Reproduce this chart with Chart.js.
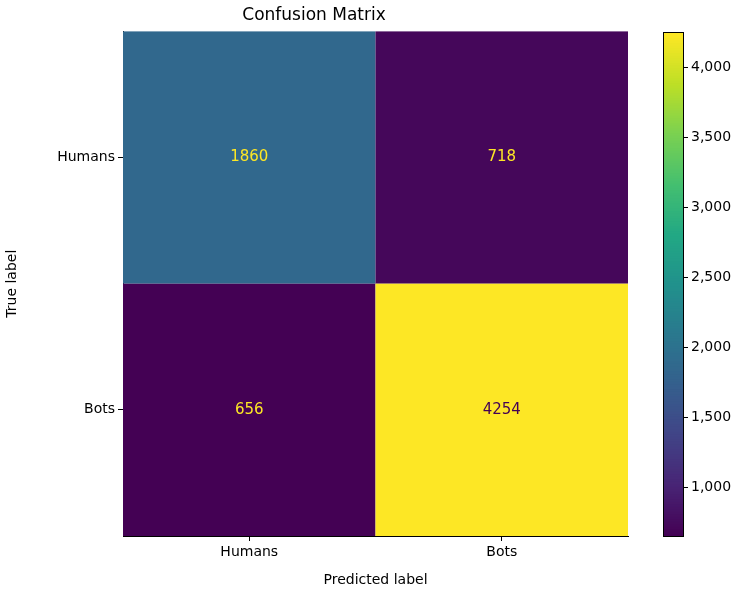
<!DOCTYPE html>
<html><head><meta charset="utf-8">
<script src="https://cdn.jsdelivr.net/npm/chart.js@4"></script>
<style>
body{margin:0;background:#fff}
#wrap{position:relative;width:750px;height:593px}
#cm{position:absolute;left:0;top:0}
#cb{position:absolute;left:640px;top:0}
</style></head>
<body><div id="wrap"><canvas id="cm" width="750" height="593"></canvas><canvas id="cb" width="110" height="593"></canvas></div>
<script>
const classes = ["Humans", "Bots"];
const matrix = [[1860, 718], [656, 4254]];
const cbTicks = [1000, 1500, 2000, 2500, 3000, 3500, 4000];
const vmin = 656, vmax = 4254;

// viridis stops
const viridis = ["#440154","#482475","#414487","#355f8d","#2a788e","#21918c","#22a884","#44bf70","#7ad151","#bddf26","#fde725"];
const hex = h => [1,3,5].map(i => parseInt(h.substr(i,2),16));
function cmap(t){
    t = Math.max(0, Math.min(1, t));
    const f = t*(viridis.length-1), i = Math.min(Math.floor(f), viridis.length-2), r = f-i;
    const a = hex(viridis[i]), b = hex(viridis[i+1]);
    return `rgb(${a.map((v,k)=>Math.round(v+(b[k]-v)*r)).join(',')})`;
}
const FONT = "'DejaVu Sans', sans-serif";
Chart.defaults.font.family = FONT;
Chart.defaults.color = '#000';

const cells = [];
matrix.forEach((row, r) => row.forEach((v, c) => cells.push({x: c, y: r, v})));

const cellPlugin = {
    id: 'cells',
    beforeDatasetsDraw(chart){
        const {ctx, scales: {x, y}} = chart;
        ctx.save();
        cells.forEach(d => {
            const x0 = x.getPixelForValue(d.x-0.5), x1 = x.getPixelForValue(d.x+0.5);
            const y0 = y.getPixelForValue(d.y-0.5), y1 = y.getPixelForValue(d.y+0.5);
            const t = (d.v-vmin)/(vmax-vmin);
            ctx.fillStyle = cmap(t);
            ctx.fillRect(x0, y0, x1-x0, y1-y0);
            ctx.fillStyle = t < 0.5 ? '#fde725' : '#440154';
            ctx.font = '15px ' + FONT;
            ctx.textAlign = 'center'; ctx.textBaseline = 'middle';
            ctx.fillText(String(d.v), (x0+x1)/2, (y0+y1)/2);
        });
        ctx.restore();
    }
};

const axisCommon = {
    type: 'linear', min: -0.5, max: 1.5,
    afterBuildTicks: s => { s.ticks = [{value: 0}, {value: 1}]; },
    ticks: {callback: v => classes[v], font: {size: 14}, color: '#000', maxRotation: 0},
    grid: {drawOnChartArea: false, tickLength: 5, color: '#000'},
    border: {color: '#000', width: 1}
};

new Chart(document.getElementById('cm'), {
    type: 'scatter',
    data: {datasets: [{data: cells, pointRadius: 0}]},
    options: {
        responsive: false, animation: false,
        layout: {padding: {left: 0, right: 122, top: 0, bottom: 0}},
        plugins: {
            legend: {display: false}, tooltip: {enabled: false},
            title: {display: true, text: 'Confusion Matrix', font: {size: 17, weight: 'normal'}, color: '#000', padding: {top: 5, bottom: 6}}
        },
        scales: {
            x: {...axisCommon, title: {display: true, text: 'Predicted label', font: {size: 14}, padding: {top: 2}},
                afterFit: s => { s.height = 57; }},
            y: {...axisCommon, reverse: true, title: {display: true, text: 'True label', font: {size: 14}},
                afterFit: s => { s.width = 123; }}
        }
    },
    plugins: [cellPlugin]
});

const gradPlugin = {
    id: 'grad',
    beforeDatasetsDraw(chart){
        const {ctx, chartArea: a, scales: {y}} = chart;
        for (let i = 0; i <= 200; i++) {
            const v0 = vmin + (vmax-vmin)*i/201, v1 = vmin + (vmax-vmin)*(i+1)/201;
            const p0 = y.getPixelForValue(v0), p1 = y.getPixelForValue(v1);
            ctx.fillStyle = cmap(i/200);
            ctx.fillRect(a.left, p1, a.right-a.left, p0-p1+1);
        }
    }
};

new Chart(document.getElementById('cb'), {
    type: 'scatter',
    data: {datasets: [{data: [], pointRadius: 0}]},
    options: {
        responsive: false, animation: false,
        layout: {padding: {left: 23, top: 32, bottom: 57, right: 0}},
        plugins: {legend: {display: false}, tooltip: {enabled: false}},
        scales: {
            x: {display: false, min: 0, max: 1},
            y: {position: 'right', min: vmin, max: vmax,
                afterBuildTicks: s => { s.ticks = cbTicks.map(v => ({value: v})); },
                ticks: {font: {size: 14}, color: '#000'},
                grid: {drawOnChartArea: false, tickLength: 5, color: '#000'},
                border: {color: '#000'},
                afterFit: s => { s.width = 67; }}
        }
    },
    plugins: [gradPlugin, {id: 'frame', afterDraw(c){ const {ctx, chartArea: a} = c; ctx.strokeStyle = '#000'; ctx.strokeRect(a.left+0.5, a.top+0.5, a.right-a.left, a.bottom-a.top); }}]
});
</script>
</body></html>
